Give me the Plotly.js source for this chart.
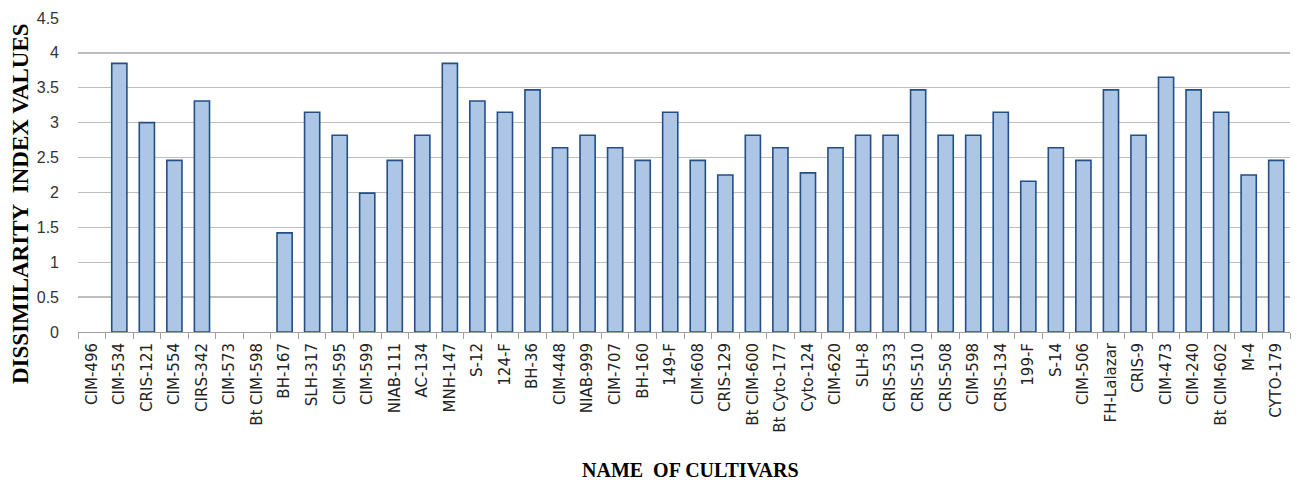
<!DOCTYPE html>
<html>
<head>
<meta charset="utf-8">
<script src="https://cdn.plot.ly/plotly-3.0.1.min.js"></script>
<style>html,body{margin:0;padding:0;background:#fff;}#chart{width:1296px;height:482px;}</style>
</head>
<body>
<div id="chart"></div>
<script>
const cultivars = ["CIM-496","CIM-534","CRIS-121","CIM-554","CIRS-342","CIM-573","Bt CIM-598","BH-167","SLH-317","CIM-595","CIM-599","NIAB-111","AC-134","MNH-147","S-12","124-F","BH-36","CIM-448","NIAB-999","CIM-707","BH-160","149-F","CIM-608","CRIS-129","Bt CIM-600","Bt Cyto-177","Cyto-124","CIM-620","SLH-8","CRIS-533","CRIS-510","CRIS-508","CIM-598","CRIS-134","199-F","S-14","CIM-506","FH-Lalazar","CRIS-9","CIM-473","CIM-240","Bt CIM-602","M-4","CYTO-179"];
const dissimilarity = [0,3.85,3.0,2.46,3.31,0,0,1.42,3.15,2.82,1.99,2.46,2.82,3.85,3.31,3.15,3.47,2.64,2.82,2.64,2.46,3.15,2.46,2.25,2.82,2.64,2.28,2.64,2.82,2.82,3.47,2.82,2.82,3.15,2.16,2.64,2.46,3.47,2.82,3.65,3.47,3.15,2.25,2.46];
const yTicks = [0,0.5,1,1.5,2,2.5,3,3.5,4,4.5];
const yTickText = ["0","0.5","1","1.5","2","2.5","3","3.5","4","4.5"];
const yTitle = "DISSIMILARITY  INDEX VALUES";
const xTitle = "NAME  OF CULTIVARS";

const trace = {
  type: "bar",
  x: cultivars,
  y: dissimilarity,
  marker: {
    color: "#adc6e6",
    line: {color: "#234f86", width: dissimilarity.map(v => v > 0 ? 1.6 : 0)}
  },
  hoverinfo: "x+y"
};

const layout = {
  width: 1296, height: 482,
  margin: {l: 78, r: 6, t: 18, b: 150},
  paper_bgcolor: "#fff", plot_bgcolor: "#fff",
  showlegend: false,
  bargap: 0.45,
  xaxis: {
    type: "category",
    tickangle: -90,
    tickfont: {family: "DejaVu Sans, Arial, sans-serif", size: 15, color: "#222"},
    ticks: "outside", tickson: "boundaries", ticklen: 6, tickcolor: "#a0a0a0",
    showline: true, linecolor: "#a0a0a0", linewidth: 1,
    showgrid: false, ticklabelstandoff: 4,
    range: [-0.5, cultivars.length - 0.5]
  },
  yaxis: {
    range: [0, 4.5],
    tickvals: yTicks, ticktext: yTickText,
    tickfont: {family: "Liberation Sans, Arial, sans-serif", size: 16, color: "#333"},
    showgrid: true, gridcolor: "#bdbdbd", gridwidth: 1.3,
    zeroline: false, showline: false, ticks: "", ticklabelstandoff: 18
  },
  annotations: [
    {text: "<b>" + yTitle + "</b>", xref: "paper", yref: "paper", x: -0.048, y: 0.41, xanchor: "center", yanchor: "middle", textangle: -90, showarrow: false,
     font: {family: "Liberation Serif, Times New Roman, serif", size: 23, color: "#000"}},
    {text: "<b>" + xTitle + "</b>", xref: "paper", yref: "paper", x: 0.505, y: -0.44, xanchor: "center", yanchor: "middle", showarrow: false,
     font: {family: "Liberation Serif, Times New Roman, serif", size: 20, color: "#000"}}
  ]
};

Plotly.newPlot("chart", [trace], layout, {displayModeBar: false, staticPlot: true});
</script>
</body>
</html>
